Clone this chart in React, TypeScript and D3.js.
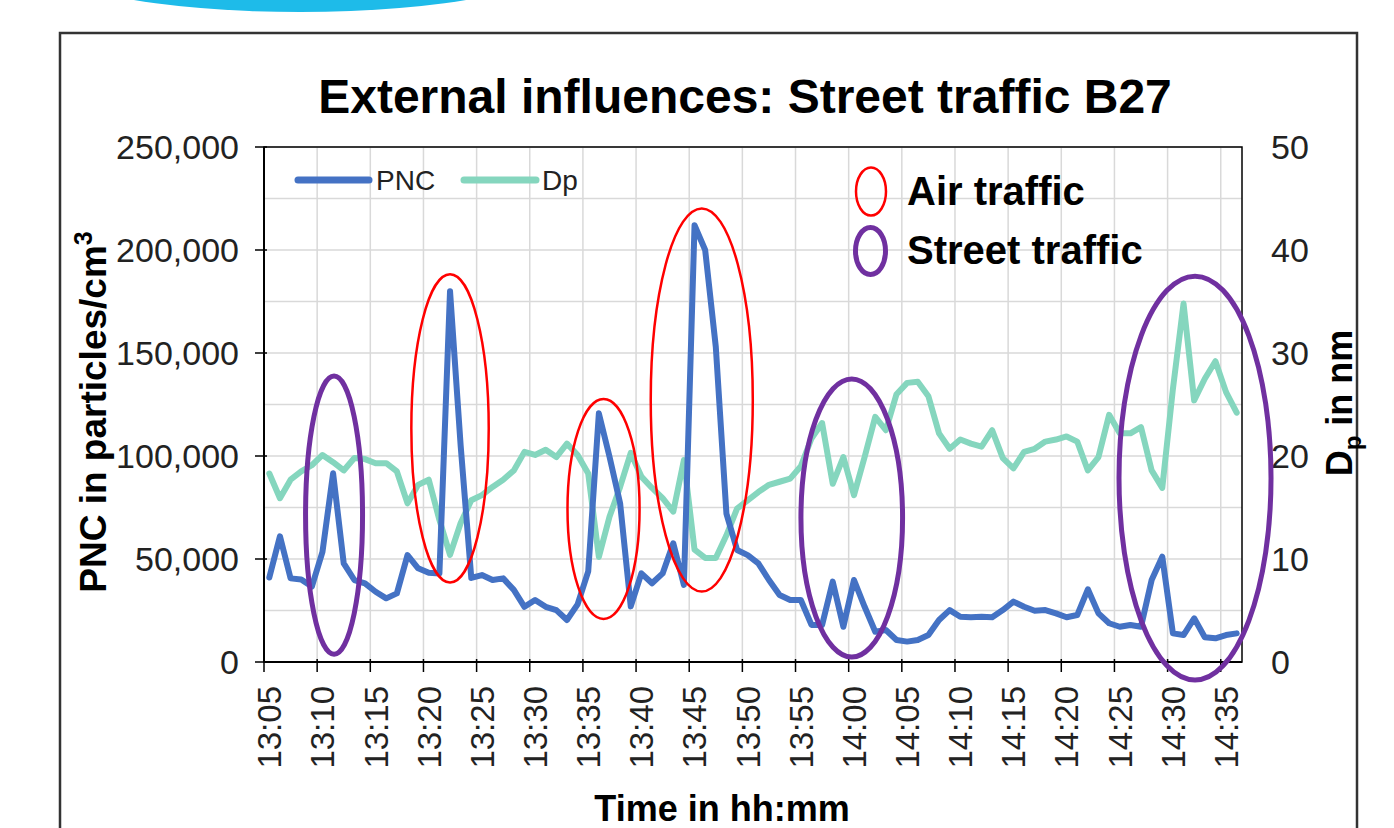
import React from "react";
import * as d3 from "d3";

// ---------- data ----------
const tickLabels = [
  "13:05", "13:10", "13:15", "13:20", "13:25", "13:30", "13:35", "13:40", "13:45", "13:50",
  "13:55", "14:00", "14:05", "14:10", "14:15", "14:20", "14:25", "14:30", "14:35",
];
// PNC in particles/cm3, one value per minute from 13:05 to 14:36
const pnc = [
  41000, 61000, 40600, 40100, 36600, 53500, 91600, 47900, 39800, 38200,
  34100, 30900, 33300, 51900, 45500, 43300, 43000, 180000, 105000, 40800,
  42200, 39800, 40600, 35000, 26800, 30100, 26800, 25200, 20400, 28000,
  44000, 120700, 99700, 77000, 27000, 43000, 38200, 43000, 57600, 37400,
  212000, 200000, 153000, 72000, 54400, 51900, 47900, 39800, 32500, 30100,
  30100, 18000, 18000, 39000, 17100, 39800, 26800, 14700, 15500, 10700,
  9900, 10700, 13100, 20400, 25200, 22000, 21700, 22000, 21700, 25200,
  29300, 26800, 24900, 25200, 23600, 21700, 22800, 35300, 23600, 18800,
  17100, 18000, 17100, 39800, 51100, 13900, 13100, 21200, 12000, 11500,
  13100, 13900,
];
// Dp in nm
const dp = [
  18.3, 15.9, 17.7, 18.5, 19.1, 20.1, 19.4, 18.6, 19.8, 19.7,
  19.3, 19.3, 18.5, 15.4, 17.2, 17.7, 13.8, 10.4, 13.5, 15.7,
  16.2, 17.0, 17.7, 18.6, 20.4, 20.1, 20.6, 19.9, 21.2, 20.1,
  18.3, 10.2, 14.1, 17.0, 20.3, 18.0, 16.9, 15.9, 14.6, 19.6,
  10.9, 10.1, 10.1, 12.3, 14.9, 15.7, 16.5, 17.2, 17.5, 17.8,
  19.0, 21.7, 23.2, 17.3, 19.9, 16.2, 19.9, 23.8, 22.5, 26.0,
  27.1, 27.2, 25.8, 22.2, 20.7, 21.6, 21.2, 20.9, 22.5, 19.8,
  18.8, 20.4, 20.7, 21.4, 21.6, 21.9, 21.4, 18.6, 19.9, 24.0,
  22.2, 22.2, 22.8, 18.6, 16.9, 26.5, 34.8, 25.4, 27.5, 29.2,
  26.2, 24.2,
];
const leftTicks = [0, 50000, 100000, 150000, 200000, 250000];
const rightTicks = [0, 10, 20, 30, 40, 50];
// annotation ellipses: centre (minute index, PNC), radii (minutes, PNC)
const airTraffic = [
  { c: 17.0, v: 113400, rx: 3.64, ry: 74800 },
  { c: 31.44, v: 74300, rx: 3.39, ry: 53400 },
  { c: 40.68, v: 127200, rx: 4.8, ry: 93000 },
];
const streetTraffic = [
  { c: 6.09, v: 71300, rx: 2.68, ry: 67500 },
  { c: 54.79, v: 69900, rx: 4.78, ry: 67500 },
  { c: 87.08, v: 89300, rx: 7.15, ry: 98000 },
];

const FONT = "'Liberation Sans', Arial, Helvetica, sans-serif";
const BLUE = "#4472C4";
const TEAL = "#85D6BE";
const RED = "#FF0000";
const PURPLE = "#7030A0";

export default function App() {
  const W = 1394, H = 828;
  const left = 264, right = 1242, top = 147, bottom = 662;
  const n = pnc.length;
  const x = d3.scaleLinear().domain([-0.5, n - 0.5]).range([left, right]);
  const yL = d3.scaleLinear().domain([0, 250000]).range([bottom, top]);
  const yR = d3.scaleLinear().domain([0, 50]).range([bottom, top]);

  const linePnc = d3.line<number>().x((_, i) => x(i)).y((d) => yL(d));
  const lineDp = d3.line<number>().x((_, i) => x(i)).y((d) => yR(d));

  const gridH = d3.range(0, 250001, 25000);
  const tickIdx = tickLabels.map((_, k) => k * 5);

  const ell = (e: { c: number; v: number; rx: number; ry: number }, color: string, sw: number, key: string) => (
    <ellipse
      key={key}
      cx={x(e.c)}
      cy={yL(e.v)}
      rx={x(e.c + e.rx) - x(e.c)}
      ry={yL(e.v - e.ry) - yL(e.v)}
      fill="none"
      stroke={color}
      strokeWidth={sw}
    />
  );

  return (
    <svg
      width={W}
      height={H}
      style={{ position: "absolute", left: 0, top: 0, background: "#fff" }}
      fontFamily={FONT}
    >
      <rect x={0} y={0} width={W} height={H} fill="#fff" />
      {/* decorative top shape */}
      <ellipse cx={300} cy={-40} rx={260} ry={52} fill="#1EBBE9" />
      {/* outer frame */}
      <rect x={60} y={33} width={1297} height={900} fill="none" stroke="#333" strokeWidth={2.5} />

      {/* title */}
      <text x={745} y={113} textAnchor="middle" fontSize={48} fontWeight="bold" fill="#000">
        External influences: Street traffic B27
      </text>

      {/* gridlines */}
      {gridH.map((v) => (
        <line key={"gh" + v} x1={left} x2={right} y1={yL(v)} y2={yL(v)} stroke="#D9D9D9" strokeWidth={1.5} />
      ))}
      {tickIdx.map((i) => (
        <line key={"gv" + i} x1={x(i - 0.5)} x2={x(i - 0.5)} y1={top} y2={bottom} stroke="#D9D9D9" strokeWidth={1.5} />
      ))}

      {/* plot border */}
      <rect x={left} y={top} width={right - left} height={bottom - top} fill="none" stroke="#000" strokeWidth={1.5} />

      {/* left axis ticks + labels */}
      {leftTicks.map((v) => (
        <g key={"lt" + v}>
          <line x1={left - 9} x2={left + 3} y1={yL(v)} y2={yL(v)} stroke="#000" strokeWidth={1.5} />
          <text x={239} y={yL(v)} dy="0.36em" textAnchor="end" fontSize={34} fill="#222">
            {d3.format(",")(v)}
          </text>
        </g>
      ))}
      {/* right axis labels */}
      {rightTicks.map((v) => (
        <text key={"rt" + v} x={1271} y={yR(v)} dy="0.36em" textAnchor="start" fontSize={34} fill="#222">
          {v}
        </text>
      ))}
      {/* x ticks + labels */}
      {tickIdx.map((i, k) => (
        <g key={"xt" + i}>
          <line x1={x(i - 0.5)} x2={x(i - 0.5)} y1={bottom - 3} y2={bottom + 10} stroke="#000" strokeWidth={1.5} />
          <text
            transform={`translate(${x(i)},686) rotate(-90)`}
            textAnchor="end"
            dy="0.36em"
            fontSize={33}
            fill="#222"
          >
            {tickLabels[k]}
          </text>
        </g>
      ))}
      <line x1={left} x2={right} y1={bottom} y2={bottom} stroke="#000" strokeWidth={2} />
      <line x1={left} x2={left} y1={top} y2={bottom} stroke="#000" strokeWidth={2} />

      {/* series */}
      <path d={lineDp(dp) || ""} fill="none" stroke={TEAL} strokeWidth={6} strokeLinejoin="round" strokeLinecap="round" />
      <path d={linePnc(pnc) || ""} fill="none" stroke={BLUE} strokeWidth={6} strokeLinejoin="round" strokeLinecap="round" />

      {/* series legend */}
      <line x1={298} x2={369} y1={180} y2={180} stroke={BLUE} strokeWidth={7} strokeLinecap="round" />
      <text x={376} y={190} fontSize={28} fill="#222">PNC</text>
      <line x1={464} x2={536} y1={180} y2={180} stroke={TEAL} strokeWidth={7} strokeLinecap="round" />
      <text x={542} y={190} fontSize={28} fill="#222">Dp</text>

      {/* annotation ellipses */}
      {airTraffic.map((e, k) => ell(e, RED, 2.5, "a" + k))}
      {streetTraffic.map((e, k) => ell(e, PURPLE, 5, "s" + k))}

      {/* annotation legend */}
      <ellipse cx={871} cy={191.5} rx={15} ry={24} fill="none" stroke={RED} strokeWidth={2.5} />
      <text x={907} y={205} fontSize={40} fontWeight="bold" fill="#000">Air traffic</text>
      <ellipse cx={870.5} cy={251} rx={15} ry={23.5} fill="none" stroke={PURPLE} strokeWidth={5} />
      <text x={907} y={264} fontSize={40} fontWeight="bold" fill="#000">Street traffic</text>

      {/* axis titles */}
      <text transform="translate(106,412) rotate(-90)" textAnchor="middle" fontSize={37} fontWeight="bold" fill="#000">
        PNC in particles/cm<tspan dy="-14" fontSize={25}>3</tspan>
      </text>
      <text transform="translate(1352,403) rotate(-90)" textAnchor="middle" fontSize={36} fontWeight="bold" fill="#000">
        D<tspan dy="9" fontSize={24}>p</tspan><tspan dy="-9"> in nm</tspan>
      </text>
      <text x={722} y={821} textAnchor="middle" fontSize={36} fontWeight="bold" fill="#000">
        Time in hh:mm
      </text>
    </svg>
  );
}
